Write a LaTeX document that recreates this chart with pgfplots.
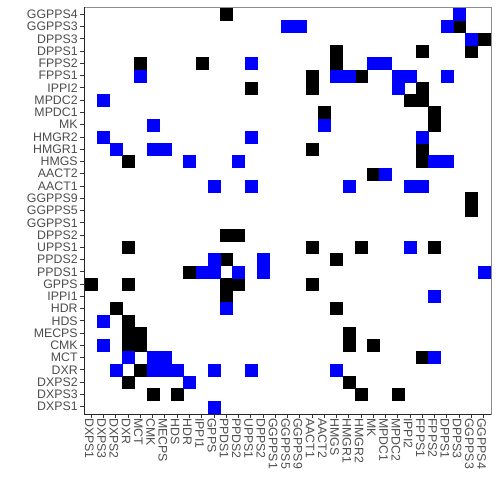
\documentclass[border=0pt]{standalone}
\usepackage{pgfplots}
\pgfplotsset{compat=1.18}
\usepackage{fontspec}
\setmainfont{Liberation Sans}
\definecolor{labgray}{HTML}{4D4D4D}
\definecolor{tileblue}{HTML}{0000FF}

% black tiles (x index, y index)
\pgfplotstableread{
x y
11 32
30 31
32 30
20 29
27 29
31 29
4 28
9 28
20 28
18 27
22 27
13 26
18 26
27 26
26 25
27 25
19 24
28 24
28 23
18 21
27 21
3 20
27 20
23 19
31 17
31 16
11 14
12 14
3 13
18 13
22 13
28 13
11 12
20 12
8 11
0 10
3 10
11 10
12 10
18 10
11 9
2 8
20 8
3 7
3 6
4 6
21 6
3 5
4 5
21 5
23 5
27 4
4 3
3 2
21 2
5 1
7 1
22 1
25 1
}\blacktiles

% blue tiles
\pgfplotstableread{
x y
30 32
16 31
17 31
29 31
31 30
13 28
23 28
24 28
4 27
20 27
21 27
25 27
26 27
29 27
25 26
1 25
5 23
19 23
1 22
13 22
27 22
2 21
5 21
6 21
8 20
12 20
28 20
29 20
24 19
10 18
13 18
21 18
26 18
27 18
26 13
10 12
14 12
9 11
10 11
12 11
14 11
32 11
28 9
11 8
1 7
1 5
3 4
5 4
6 4
28 4
2 3
5 3
6 3
7 3
10 3
13 3
20 3
8 2
10 0
}\bluetiles

\begin{document}
\begin{tikzpicture}
\begin{axis}[
  scale only axis,
  x=7.356pt, y=7.356pt,
  xmin=-0.6, xmax=32.6, ymin=-0.6, ymax=32.6,
  xtick={0,...,32}, ytick={0,...,32},
  xticklabels={DXPS1,DXPS3,DXPS2,DXR,MCT,CMK,MECPS,HDS,HDR,IPPI1,GPPS,PPDS1,PPDS2,UPPS1,DPPS2,GGPPS1,GGPPS5,GGPPS9,AACT1,AACT2,HMGS,HMGR1,HMGR2,MK,MPDC1,MPDC2,IPPI2,FPPS1,FPPS2,DPPS1,DPPS3,GGPPS3,GGPPS4},
  yticklabels={DXPS1,DXPS3,DXPS2,DXR,MCT,CMK,MECPS,HDS,HDR,IPPI1,GPPS,PPDS1,PPDS2,UPPS1,DPPS2,GGPPS1,GGPPS5,GGPPS9,AACT1,AACT2,HMGS,HMGR1,HMGR2,MK,MPDC1,MPDC2,IPPI2,FPPS1,FPPS2,DPPS1,DPPS3,GGPPS3,GGPPS4},
  tick pos=left,
  tick align=outside,
  major tick length=2.4pt,
  tick style={black!80, line width=0.5pt},
  ticklabel style={font=\fontsize{7.4}{8.5}\selectfont, text=labgray},
  xticklabel style={rotate=-90, anchor=west, inner sep=0pt, yshift=-1.2pt},
  yticklabel style={anchor=east, inner sep=0pt, xshift=-1.2pt},
  axis line style={black!45, line width=0.5pt},
  clip=false,
]
\addplot[black, only marks, mark=square*, mark size=3.6pt, mark options={draw=black, fill=black, line width=0.15pt}] table[x=x, y=y] {\blacktiles};
\addplot[tileblue, only marks, mark=square*, mark size=3.6pt, mark options={draw=tileblue, fill=tileblue, line width=0.15pt}] table[x=x, y=y] {\bluetiles};
\draw[black!85, line width=0.5pt] (rel axis cs:0,1) -- (rel axis cs:0,0) -- (rel axis cs:1,0);
\coordinate (ll) at (rel axis cs:0,0);
\coordinate (ur) at (rel axis cs:1,1);
\end{axis}
\pgfresetboundingbox
\path[use as bounding box] ([xshift=-50.4pt, yshift=-51.6pt]ll) rectangle ([xshift=5.4pt, yshift=4.2pt]ur);
\end{tikzpicture}
\end{document}
